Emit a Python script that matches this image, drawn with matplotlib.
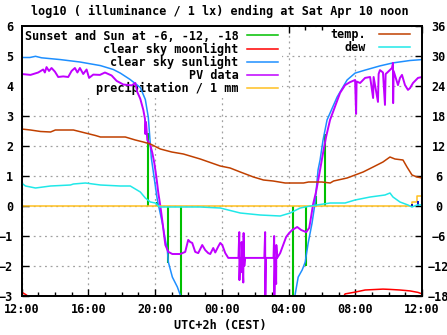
import numpy as np
import matplotlib.pyplot as plt
from matplotlib.lines import Line2D

# time axis: hours after Fri 12:00 CEST
tick_hours = [0, 4, 8, 12, 16, 20, 24]
tick_labels = ["12:00", "16:00", "20:00", "00:00", "04:00", "08:00", "12:00"]

# sunset / sun at -6, -12, -18 (impulses from 0)
sun_t = [7.6, 8.14, 8.8, 9.58, 16.28, 17.06, 17.65, 18.19]
sun_v = [2.43, 0.15, -1.9, -3.3, -3.3, -2.0, 0.35, 2.4]

# clear sky moonlight
moon_t = [0, 0.25, 0.5, np.nan, 19.27, 19.39, 19.99, 20.59, 21.66, 22.08, 22.68, 23.28, 23.76, 24]
moon_v = [-2.87, -2.95, -3.05, np.nan, -3.05, -2.93, -2.87, -2.8, -2.77, -2.78, -2.8, -2.83, -2.88, -2.93]

# clear sky sunlight
csun_t = [0, 0.5, 0.84, 1.2, 2.33, 3.5, 4.73, 5.5, 5.92, 6.5, 7.12, 7.42, 7.6, 7.78, 7.96,
          8.14, 8.44, 8.62, 8.74, 8.8, 9.04, 9.34, 9.6, np.nan,
          16.35, 16.58, 16.82, 17.0, 17.18, 17.41, 17.59, 17.77, 17.89, 18.07, 18.31, 18.91,
          19.51, 19.99, 20.59, 21.48, 22.26, 23.28, 24]
csun_v = [4.95, 4.95, 4.99, 4.94, 4.88, 4.8, 4.68, 4.55, 4.43, 4.22, 3.95, 3.55, 2.95, 1.6, 0.9,
          0.2, -0.57, -1.13, -1.47, -1.87, -2.37, -2.7, -3.1, np.nan,
          -3.1, -2.37, -2.13, -1.87, -1.23, -0.57, 0.1, 1.2, 1.53, 2.2, 2.87, 3.63,
          4.2, 4.43, 4.53, 4.67, 4.77, 4.85, 4.88]

# PV data
pv_t = [0, 0.54, 1.0, 1.3, 1.4, 1.5, 1.65, 1.8, 2.0, 2.2, 2.5, 2.8, 3.0, 3.2, 3.35, 3.5, 3.7,
        3.9, 4.05, 4.3, 4.7, 5.0, 5.4, 5.7, 6.1, 6.6, 6.82, 6.94, 7.12, 7.3, 7.4, 7.42, 7.46,
        7.54, 7.72, 7.84, 7.96, 8.08, 8.2, 8.32, 8.44, 8.62, 8.8, 9.04, 9.52, 9.81, 9.99,
        10.11, 10.23, 10.41, 10.59, 10.83, 11.01, 11.19, 11.31, 11.49, 11.61, 11.79, 11.91,
        12.03, 12.21, 12.39, 13.0, 13.05, 13.06, 13.1, 13.17, 13.19, 13.23, 13.29, 13.31,
        13.35, 13.4, 14.55, 14.6, 14.61, 14.65, 15.1, 15.14, 15.15, 15.2, 15.26, 15.27, 15.32,
        15.5, 15.68, 15.86, 16.04, 16.22, 16.52, 16.76, 17.06, 17.24, 17.35, 17.47, 17.65,
        17.89, 18.07, 18.25, 18.49, 19.09, 19.39, 19.69, 19.99, 20.05, 20.08, 20.29, 20.59,
        20.89, 21.07, 21.1, 21.36, 21.4, 21.48, 21.66, 21.78, 21.82, 21.96, 22.2, 22.26,
        22.27, 22.3, 22.56, 22.68, 22.8, 22.98, 23.16, 23.28, 23.46, 23.76, 24]
pv_v = [4.4, 4.37, 4.45, 4.55, 4.45, 4.63, 4.5, 4.6, 4.48, 4.3, 4.32, 4.3, 4.5, 4.6, 4.45, 4.6, 4.4,
        4.55, 4.27, 4.38, 4.37, 4.45, 4.35, 4.17, 4.05, 4.02, 4.1, 3.8, 3.57, 3.2, 2.9, 2.4, 2.8,
        2.2, 2.03, 1.77, 1.43, 0.97, 0.43, 0.0, -0.5, -1.3, -1.53, -1.6, -1.6, -1.53, -1.13,
        -1.2, -1.23, -1.53, -1.57, -1.3, -1.47, -1.57, -1.6, -1.4, -1.55, -1.35, -1.23,
        -1.3, -1.57, -1.73, -1.73, -0.87, -2.47, -1.73, -2.2, -1.2, -1.73, -2.55, -0.9,
        -2.0, -1.73, -1.73, -0.87, -3.1, -1.73, -1.73, -1.0, -3.1, -1.73, -2.6, -1.3, -1.73,
        -1.57, -1.3, -1.03, -0.9, -0.8, -0.7, -0.8, -0.87, -0.73, -0.37, 0.05, 0.47,
        1.2, 1.77, 2.3, 2.87, 3.77, 4.03, 4.13, 4.2, 3.07, 4.15, 4.1, 4.27,
        4.3, 3.6, 4.3, 3.47, 4.4, 4.53, 4.45, 3.37, 4.4, 4.47, 4.6, 4.77,
        3.43, 4.5, 4.03, 4.27, 4.37, 4.03, 3.87, 3.93, 4.1, 4.27, 4.3]

# precipitation / 1 mm
rain_t = [0, 23.4, 23.4, 23.7, 23.7, 24]
rain_v = [0, 0, 0.13, 0.13, 0.33, 0.33]
rain_imp_t = [23.4, 23.76]
rain_imp_v = [0.07, 0.17]

# temperature and dew point, deg C (right axis)
temp_t = [0, 0.54, 1.14, 1.74, 2.03, 3.11, 3.83, 4.43, 4.73, 6.22, 6.82, 7.3, 7.72, 8.32, 9.0,
          9.7, 10.71, 11.91, 12.5, 13.11, 13.9, 14.5, 15.08, 15.8, 16.9, 17.2, 18.0, 18.5,
          18.7, 19.51, 19.99, 20.47, 21.07, 21.66, 22.08, 22.38, 22.86, 23.1, 23.4, 23.7, 24]
temp_v = [15.4, 15.2, 14.9, 14.8, 15.2, 15.2, 14.6, 14.1, 13.8, 13.8, 13.2, 12.8, 12.4, 11.4, 10.8,
          10.4, 9.4, 8.0, 7.6, 6.8, 5.8, 5.2, 5.0, 4.6, 4.6, 4.8, 4.8, 4.6,
          5.0, 5.6, 6.2, 6.8, 7.8, 8.8, 9.8, 9.4, 9.2, 7.8, 6.2, 5.8, 5.6]
dew_t = [0, 0.24, 0.84, 1.74, 2.93, 3.11, 3.83, 4.73, 5.92, 6.52, 7.12, 7.42, 7.72, 8.02, 8.2,
         8.32, 9.52, 10.71, 11.91, 13.11, 14.3, 15.5, 16.1, 16.7, 17.3, 18.49, 19.39, 19.99,
         20.89, 21.78, 22.08, 22.26, 22.68, 23.16, 23.4, 23.7, 24]
dew_v = [4.6, 4.0, 3.6, 4.0, 4.2, 4.4, 4.6, 4.2, 4.0, 4.0, 2.8, 1.6, 0.8, 0.6, 0.0,
         -0.2, -0.2, -0.2, -0.4, -1.4, -1.8, -2.0, -1.4, -0.4, 0.0, 0.6, 0.6, 1.2,
         1.8, 2.2, 2.6, 1.8, 0.8, 0.2, -0.2, 0.2, 0.2]

c_sun = "#00c000"
c_moon = "#ff0000"
c_csun = "#1e8fff"
c_pv = "#c000ff"
c_rain = "#ffc020"
c_temp = "#c04000"
c_dew = "#20e8e8"

plt.rcParams['font.family'] = ['DejaVu Sans Mono']
plt.rcParams['font.weight'] = 'bold'
plt.rcParams['font.size'] = 8.5

fig = plt.figure(figsize=(4.47, 3.35), dpi=100)
ax = fig.add_axes([0.0481, 0.1164, 0.896, 0.806])
ax2 = ax.twinx()

ax.set_xlim(0, 24)
ax.set_ylim(-3, 6)
ax2.set_ylim(-18, 36)

ax.set_axisbelow(True)
ax.set_xticks(tick_hours)
ax.set_xticklabels(tick_labels)
ax.set_xticks(range(0, 25), minor=True)
ax.set_yticks(range(-3, 7))
ax2.set_yticks(range(-18, 37, 6))
ax.grid(True, which='major', color='#a0a0a0', linestyle=(0, (1.5, 3)), lw=0.9)

ax.tick_params(axis='x', which='major', direction='in', length=5, width=1, top=True, pad=5)
ax.tick_params(axis='x', which='minor', direction='in', length=3, width=1, top=True)
ax.tick_params(axis='y', direction='in', length=5, width=1, right=False, pad=6)
ax2.tick_params(axis='y', direction='in', length=5, width=1, pad=12)
for lab in ax2.get_yticklabels():
    lab.set_horizontalalignment('center')
for a in (ax, ax2):
    for s in a.spines.values():
        s.set_linewidth(1.3)

# data on the left axis
ax.vlines(sun_t, 0, sun_v, color=c_sun, lw=1.5, zorder=2)
ax.plot(moon_t, moon_v, color=c_moon, lw=1.1)
ax.plot(csun_t, csun_v, color=c_csun, lw=1.1)
ax.plot(pv_t, pv_v, color=c_pv, lw=1.4)
ax.plot(rain_t, rain_v, color=c_rain, lw=1.1)
ax.vlines(rain_imp_t, 0, rain_imp_v, color="#0000c0", lw=1.3, zorder=2)

# right axis
ax2.plot(temp_t, temp_v, color=c_temp, lw=1.1)
ax2.plot(dew_t, dew_v, color=c_dew, lw=1.1)

h1 = [Line2D([], [], color=c, lw=1.1) for c in (c_sun, c_moon, c_csun, c_pv, c_rain)]
l1 = ["Sunset and Sun at -6, -12, -18", "clear sky moonlight", "clear sky sunlight",
      "PV data", "precipitation / 1 mm"]
leg1 = ax.legend(h1, l1, loc='upper right', bbox_to_anchor=(282 / 447, 1 - 26 / 335),
                 bbox_transform=fig.transFigure, markerfirst=False, frameon=True,
                 fancybox=False, edgecolor='none', facecolor='white', framealpha=1,
                 handlelength=2.7, handletextpad=0.68, labelspacing=0.0,
                 borderpad=0.3, borderaxespad=0, fontsize=8.5)
leg1.set_zorder(1)
ax.add_artist(leg1)

h2 = [Line2D([], [], color=c, lw=1.1) for c in (c_temp, c_dew)]
leg2 = ax.legend(h2, ["temp.", "dew"], loc='upper right',
                 bbox_to_anchor=(411 / 447, 1 - 27 / 335),
                 bbox_transform=fig.transFigure, markerfirst=False, frameon=True,
                 fancybox=False, edgecolor='none', facecolor='white', framealpha=1,
                 handlelength=2.6, handletextpad=1.15, labelspacing=0.0,
                 borderpad=0.1, borderaxespad=0, fontsize=8.5)
leg2.set_zorder(1)

fig.text(0.492, 1 - 11 / 335, "log10 ( illuminance / 1 lx) ending at Sat Apr 10 noon",
         ha='center', va='center')
fig.text(0.493, 1 - 326 / 335, "UTC+2h (CEST)", ha='center', va='center')

fig.savefig("out.png", dpi=100)
